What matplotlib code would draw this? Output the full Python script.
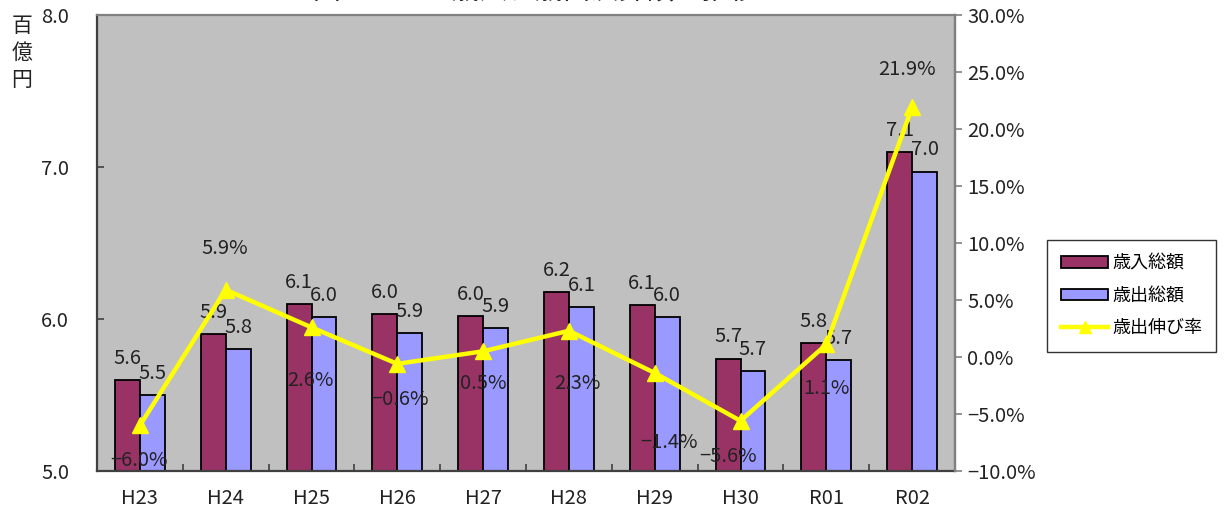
import matplotlib
matplotlib.use("Agg")
import matplotlib.pyplot as plt
import numpy as np
from matplotlib.patches import Patch
from matplotlib.lines import Line2D

plt.rcParams['font.family'] = ['Noto Sans CJK JP', 'DejaVu Sans']

# ---- data ----
years = ["H23", "H24", "H25", "H26", "H27", "H28", "H29", "H30", "R01", "R02"]
revenue = [5.60, 5.90, 6.10, 6.03, 6.02, 6.18, 6.09, 5.74, 5.84, 7.10]      # 歳入総額 (百億円)
expenditure = [5.50, 5.80, 6.01, 5.91, 5.94, 6.08, 6.01, 5.66, 5.73, 6.97]  # 歳出総額 (百億円)
growth = [-6.0, 5.9, 2.6, -0.6, 0.5, 2.3, -1.4, -5.6, 1.1, 21.9]           # 歳出伸び率 (%)
left_ticks = [5.0, 6.0, 7.0, 8.0]
right_ticks = [-10, -5, 0, 5, 10, 15, 20, 25, 30]

# label placement for growth-rate annotations (offset in points)
growth_label_offsets = [(-1, -25), (-1, 30), (-1, -38), (2, -26), (0, -23),
                        (6, -38), (10, -50), (-9, -26), (0, -32), (-4, 27)]

C_REV = "#993366"
C_EXP = "#9999FF"
C_LINE = "#FFFF00"
C_BG = "#C0C0C0"
C_TXT = "#222222"

W, H = 1224, 508
fig = plt.figure(figsize=(W / 100, H / 100), dpi=100)
ax = fig.add_axes([97 / W, 1 - 471 / H, (955 - 97) / W, (471 - 15) / H])
ax.set_facecolor(C_BG)

x = np.arange(len(years))
bw = 0.29
ax.bar(x - bw / 2, [v - 5.0 for v in revenue], bw, bottom=5.0, color=C_REV,
       edgecolor="black", linewidth=1.3, zorder=2)
ax.bar(x + bw / 2, [v - 5.0 for v in expenditure], bw, bottom=5.0, color=C_EXP,
       edgecolor="black", linewidth=1.3, zorder=2)

fs = 14.5
for xi, v in zip(x - bw / 2, revenue):
    ax.annotate(f"{v:.1f}", (xi, v), xytext=(0, 8), textcoords="offset points",
                ha="center", va="bottom", fontsize=fs, color=C_TXT, zorder=3)
for xi, v in zip(x + bw / 2, expenditure):
    ax.annotate(f"{v:.1f}", (xi, v), xytext=(0, 8), textcoords="offset points",
                ha="center", va="bottom", fontsize=fs, color=C_TXT, zorder=3)

ax.set_xlim(-0.5, len(years) - 0.5)
ax.set_ylim(5.0, 8.0)
ax.set_yticks(left_ticks)
ax.set_yticklabels([f"{t:.1f}" for t in left_ticks], fontsize=fs, color=C_TXT)
ax.tick_params(axis="y", direction="in", length=5, width=1.2, color="#404040", pad=20)
ax.set_xticks(x)
ax.set_xticklabels(years, fontsize=fs, color=C_TXT)
ax.tick_params(axis="x", which="major", length=0, pad=12)
ax.set_xticks(np.arange(0.5, len(years) - 0.5, 1.0), minor=True)
ax.tick_params(axis="x", which="minor", direction="in", length=5, width=1.2, color="#404040")

for s in ("left", "bottom"):
    ax.spines[s].set_color("#404040")
    ax.spines[s].set_linewidth(1.6)
for s in ("top", "right"):
    ax.spines[s].set_color("#808080")
    ax.spines[s].set_linewidth(1.6)

# growth-rate line on the secondary axis
ax2 = ax.twinx()
ax2.plot(x, growth, color=C_LINE, linewidth=3.2, marker="^", markersize=11,
         markeredgecolor=C_LINE, zorder=4)
for xi, g, (dx, dy) in zip(x, growth, growth_label_offsets):
    txt = f"{g:.1f}%".replace("-", "\u2212")
    ax2.annotate(txt, (xi, g), xytext=(dx, dy), textcoords="offset points",
                 ha="center", va="center", fontsize=fs, color=C_TXT, zorder=5)
ax2.set_ylim(-10, 30)
ax2.set_yticks(right_ticks)
ax2.set_yticklabels([f"{t:.1f}%".replace("-", "\u2212") for t in right_ticks],
                    fontsize=fs, color=C_TXT)
ax2.tick_params(axis="y", direction="out", length=5, width=1.2, color="#808080", pad=4)
ax2.spines["right"].set_color("#808080")
ax2.spines["right"].set_linewidth(1.6)
for s in ("left", "top", "bottom"):
    ax2.spines[s].set_visible(False)

# unit label
fig.text(22 / W, 1 - 53 / H, "百\n億\n円", ha="center", va="center",
         fontsize=15, color=C_TXT, linespacing=1.3)

# title (sits at the very top edge)
fig.text(535 / W, 1 - 6 / H, "図２－１　歳入、歳出決算額の推移", ha="center",
         va="bottom", fontsize=20, color=C_TXT)

handles = [
    Patch(facecolor=C_REV, edgecolor="black", linewidth=1.3, label="歳入総額"),
    Patch(facecolor=C_EXP, edgecolor="black", linewidth=1.3, label="歳出総額"),
    Line2D([0], [0], color=C_LINE, linewidth=3.2, marker="^", markersize=8,
           label="歳出伸び率"),
]
leg = fig.legend(handles=handles, loc="upper left",
                 bbox_to_anchor=(1047 / W, 1 - 240 / H), frameon=True,
                 fancybox=False, edgecolor="black", fontsize=13,
                 handlelength=2.6, handleheight=0.6, labelspacing=0.8,
                 borderpad=0.8, handletextpad=0.2, borderaxespad=0)
leg.get_frame().set_linewidth(1.0)

fig.savefig("out.png", dpi=100)
